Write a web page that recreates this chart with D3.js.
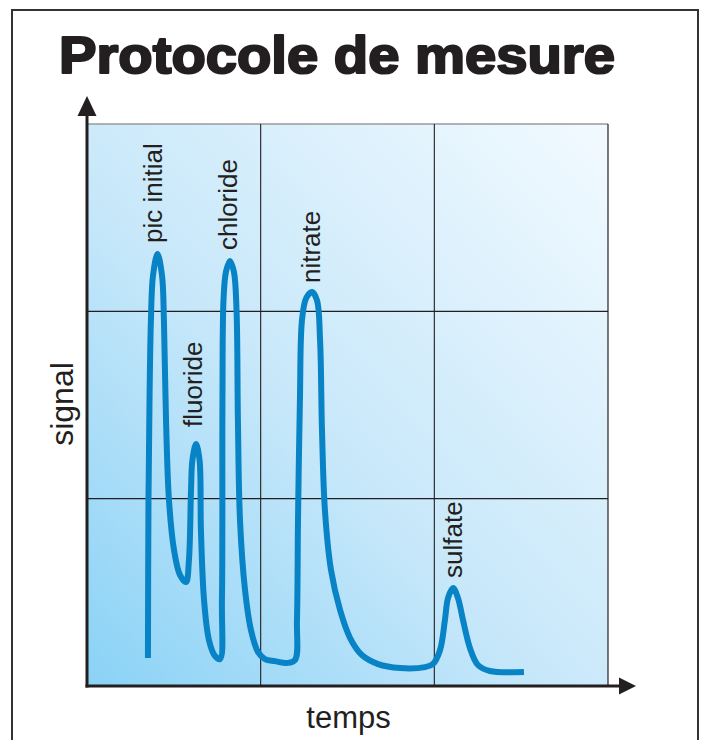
<!DOCTYPE html>
<html>
<head>
<meta charset="utf-8">
<script src="https://cdn.jsdelivr.net/npm/d3@7"></script>
<style>
  html, body { margin: 0; padding: 0; background: #fff; }
  svg { display: block; }
</style>
</head>
<body>
<svg id="chart" width="704" height="740"></svg>
<script>
// ---------- data ----------
const titleText = "Protocole de mesure";
const xAxisLabel = "temps";
const yAxisLabel = "signal";

// chromatogram trace (time units 0–30, signal units 0–30)
const timeValues = [
  3.51, 3.54, 3.60, 3.68, 3.80, 4.06, 4.32, 4.43, 4.55, 4.72, 5.01, 5.35, 5.70,
  5.87, 5.99, 6.07, 6.28, 6.48, 6.56, 6.74, 7.02, 7.37, 7.66,
  7.77, 7.80, 7.86, 8.00, 8.23, 8.46, 8.61, 8.69, 8.81, 9.10, 9.44, 9.85, 10.25,
  10.82, 11.52, 11.98,
  12.09, 12.15, 12.26, 12.38, 12.62, 12.96, 13.24, 13.42, 13.53, 13.70, 14.05,
  14.57, 15.15, 15.83, 16.76, 18.02, 19.46, 19.92,
  20.33, 20.61, 20.79, 21.08, 21.36, 21.65, 22.05, 22.51, 23.20, 25.16
];
const signalValues = [
  1.49, 9.93, 15.3, 19.5, 21.9, 23.06, 21.9, 19.5, 14.2, 9.93, 7.26, 5.93, 5.55,
  6.73, 10.46, 12.06, 12.92, 12.06, 8.33, 4.59, 2.46, 1.60, 1.44,
  4.59, 15.27, 20.6, 22.1, 22.69, 22.1, 20.07, 14.2, 8.86, 5.12, 2.99, 1.81, 1.44,
  1.33, 1.23, 1.39,
  3.52, 8.86, 15.27, 19.54, 20.71, 21.03, 20.6, 18.47, 13.67, 9.39, 6.19,
  4.06, 2.56, 1.65, 1.17, 0.96, 1.01, 1.17,
  1.92, 3.52, 4.70, 5.23, 4.70, 3.52, 2.03, 1.12, 0.80, 0.75
];

// peak labels (label start point in data units)
const peakNames   = ["pic initial", "fluoride", "chloride", "nitrate", "sulfate"];
const labelTimes  = [4.32, 6.62, 8.64, 13.42, 21.59];
const labelSignal = [23.65, 13.83, 23.27, 21.51, 5.77];

// grid
const timeGrid   = [10, 20];
const signalGrid = [10, 20];
const timeDomain   = [0, 30];
const signalDomain = [0, 30];

// ---------- drawing ----------
const svg = d3.select("#chart");
const plot = { left: 87, right: 608, top: 124, bottom: 686 };
const ink = "#231f20";

const x = d3.scaleLinear().domain(timeDomain).range([plot.left, plot.right]);
const y = d3.scaleLinear().domain(signalDomain).range([plot.bottom, plot.top]);

// outer frame
svg.append("rect")
  .attr("x", 12).attr("y", 10)
  .attr("width", 686).attr("height", 760)
  .attr("fill", "none").attr("stroke", "#333").attr("stroke-width", 2);

// title
svg.append("text")
  .attr("x", 59).attr("y", 73)
  .attr("font-family", "Liberation Sans, Arial, sans-serif")
  .attr("font-weight", "bold")
  .attr("font-size", 52)
  .attr("fill", ink).attr("stroke", ink).attr("stroke-width", 2.2)
  .attr("stroke-linejoin", "round")
  .attr("textLength", 556).attr("lengthAdjust", "spacingAndGlyphs")
  .text(titleText);

// background gradient
const defs = svg.append("defs");
const grad = defs.append("linearGradient")
  .attr("id", "bg").attr("x1", "0%").attr("y1", "100%").attr("x2", "100%").attr("y2", "0%");
grad.append("stop").attr("offset", "0%").attr("stop-color", "#8ad2f6");
grad.append("stop").attr("offset", "45%").attr("stop-color", "#c8e8fa");
grad.append("stop").attr("offset", "100%").attr("stop-color", "#f2faff");

svg.append("rect")
  .attr("x", plot.left).attr("y", plot.top)
  .attr("width", plot.right - plot.left).attr("height", plot.bottom - plot.top)
  .attr("fill", "url(#bg)");

// top border (gray) and right border
svg.append("line")
  .attr("x1", plot.left).attr("x2", plot.right)
  .attr("y1", plot.top).attr("y2", plot.top)
  .attr("stroke", "#9a9a9a").attr("stroke-width", 1.5);
svg.append("line")
  .attr("x1", plot.right).attr("x2", plot.right)
  .attr("y1", plot.top).attr("y2", plot.bottom)
  .attr("stroke", ink).attr("stroke-width", 1.2);

// grid
svg.append("g").selectAll("line").data(timeGrid).join("line")
  .attr("x1", d => x(d)).attr("x2", d => x(d))
  .attr("y1", plot.top).attr("y2", plot.bottom)
  .attr("stroke", ink).attr("stroke-width", 1.1);
svg.append("g").selectAll("line").data(signalGrid).join("line")
  .attr("x1", plot.left).attr("x2", plot.right)
  .attr("y1", d => y(d)).attr("y2", d => y(d))
  .attr("stroke", ink).attr("stroke-width", 1.1);

// curve
const pts = timeValues.map((t, i) => [t, signalValues[i]]);
const line = d3.line()
  .x(d => x(d[0])).y(d => y(d[1]))
  .curve(d3.curveCatmullRom.alpha(0.5));
svg.append("path")
  .attr("d", line(pts))
  .attr("fill", "none")
  .attr("stroke", "#0783c6")
  .attr("stroke-width", 6)
  .attr("stroke-linejoin", "round")
  .attr("stroke-linecap", "butt");

// peak labels
svg.append("g").selectAll("text").data(peakNames).join("text")
  .attr("transform", (d, i) => `translate(${x(labelTimes[i])},${y(labelSignal[i])}) rotate(-90)`)
  .attr("font-family", "Liberation Sans, Arial, sans-serif")
  .attr("font-size", 26)
  .attr("fill", ink)
  .text(d => d);

// axes
const xAxis = d3.axisBottom(x).tickValues([]).tickSizeOuter(0);
const yAxis = d3.axisLeft(y).tickValues([]).tickSizeOuter(0);
const gx = svg.append("g").attr("transform", `translate(0,${plot.bottom})`).call(xAxis);
const gy = svg.append("g").attr("transform", `translate(${plot.left},0)`).call(yAxis);
gx.select(".domain").attr("d", `M${plot.left - 1.5},0H620`).attr("stroke", ink).attr("stroke-width", 3);
gy.select(".domain").attr("d", `M0,${plot.bottom + 1.5}V112`).attr("stroke", ink).attr("stroke-width", 3);

// arrow heads
svg.append("path")
  .attr("d", `M619,${plot.bottom - 8.5}L636,${plot.bottom}L619,${plot.bottom + 8.5}Z`)
  .attr("fill", ink);
svg.append("path")
  .attr("d", `M${plot.left - 9.5},116L${plot.left},96L${plot.left + 9.5},116Z`)
  .attr("fill", ink);

// axis titles
svg.append("text")
  .attr("x", (plot.left + plot.right) / 2 + 1).attr("y", 728)
  .attr("text-anchor", "middle")
  .attr("font-family", "Liberation Sans, Arial, sans-serif")
  .attr("font-size", 31)
  .attr("fill", ink)
  .text(xAxisLabel);

svg.append("text")
  .attr("transform", `translate(73,${(plot.top + plot.bottom) / 2 - 1}) rotate(-90)`)
  .attr("text-anchor", "middle")
  .attr("font-family", "Liberation Sans, Arial, sans-serif")
  .attr("font-size", 32)
  .attr("fill", ink)
  .text(yAxisLabel);
</script>
</body>
</html>
